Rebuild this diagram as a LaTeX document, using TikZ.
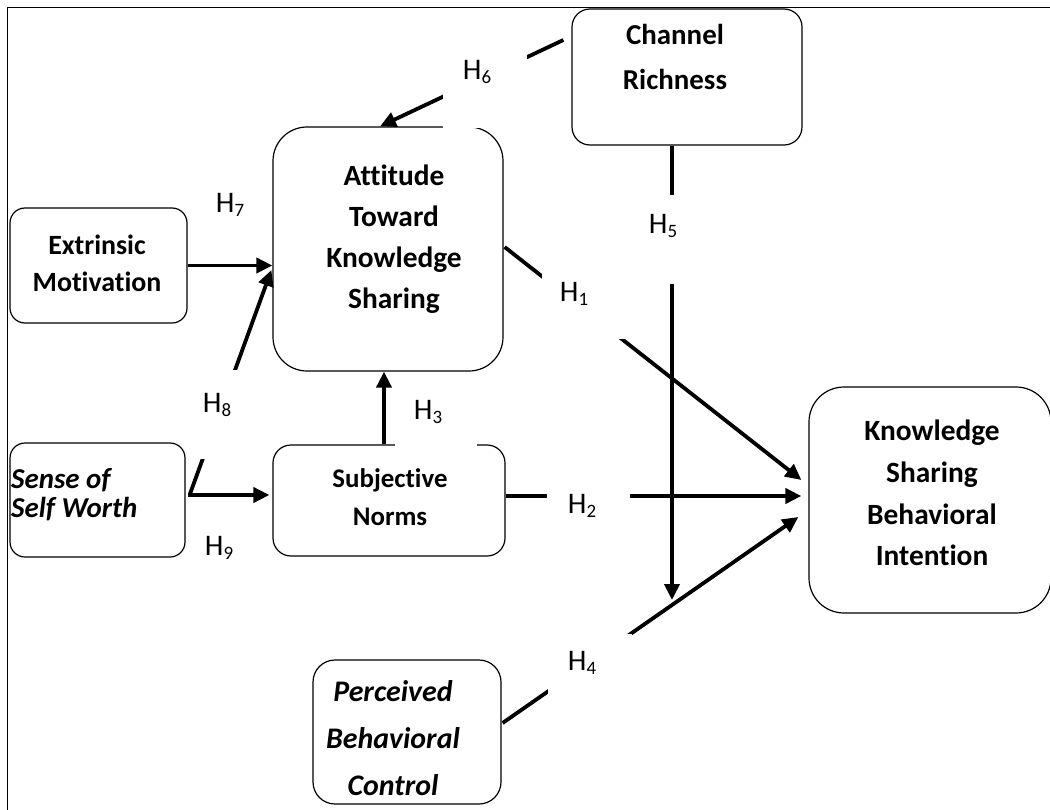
\documentclass[tikz,border=0pt]{standalone}
\usepackage{fontspec}
\setmainfont{Carlito}[Ligatures=NoCommon]
\usetikzlibrary{arrows.meta,calc}

\tikzset{
  cbox/.style={draw, line width=1.2bp, rounded corners=#1, inner sep=0pt},
  btext/.style={align=center, inner sep=0pt},
  conn/.style={line width=3.8bp, -{Triangle[length=16bp,width=15bp]}},
  mask/.style={fill=white, draw=none, inner sep=0pt},
  hlab/.style={font=\fontsize{30}{32}\selectfont, inner sep=0pt},
  frameline/.style={line width=1.8bp},
}
\newcommand\hyp[1]{H\raisebox{-4.5bp}{\fontsize{19}{19}\selectfont #1}}

\begin{document}
\begin{tikzpicture}[x=1bp, y=-1bp]
\useasboundingbox (0,0) rectangle (1050,810);

% outer frame (its right and bottom sides lie outside the page)
\draw[frameline] (1052,7.5) -- (7.5,7.5) -- (7.5,812);

% constructs
\node[cbox=18bp, minimum width=230bp, minimum height=136bp] (chan)  at (687,77)     {};
\node[cbox=34bp, minimum width=230bp, minimum height=244bp] (att)   at (388,249)    {};
\node[cbox=15bp, minimum width=177bp, minimum height=115bp] (ext)   at (98.5,265.5) {};
\node[cbox=15bp, minimum width=175bp, minimum height=114bp] (sense) at (97.5,500)   {};
\node[cbox=18bp, minimum width=232bp, minimum height=111bp] (sn)    at (389,500.5)  {};
\node[cbox=22bp, minimum width=188bp, minimum height=144bp] (pbc)   at (407,732)    {};
\node[cbox=35bp, minimum width=242bp, minimum height=226bp] (ksbi)  at (930,500)    {};

% construct names
\node[btext, font=\bfseries\fontsize{29}{46}\selectfont] (chanT) at (675,57) {Channel\\Richness};
\node[btext, font=\bfseries\fontsize{29.5}{41}\selectfont] (attT) at (394,239) {Attitude\\Toward\\Knowledge\\Sharing};
\node[btext, font=\bfseries\fontsize{28}{37}\selectfont] (extT) at (97,263) {Extrinsic\\Motivation};
\node[btext, align=left, anchor=west, font=\bfseries\itshape\fontsize{29}{29}\selectfont] (senseT) at (11,495) {Sense of\\Self Worth};
\node[btext, font=\bfseries\fontsize{27}{38}\selectfont] (snT) at (390,497) {Subjective\\Norms};
\node[btext, font=\bfseries\itshape\fontsize{30}{47}\selectfont] (pbcT) at (393,738) {Perceived\\Behavioral\\Control};
\node[btext, font=\bfseries\fontsize{29.5}{42}\selectfont] (ksbiT) at (932,493) {Knowledge\\Sharing\\Behavioral\\Intention};

% hypothesised paths
\draw[conn] ($(chan.west)+(-8,-37)$) -- ($(att.north)+(-8,0)$);        % H6
\draw[conn] (ext.east) -- (ext.east -| att.west);                        % H7
\draw[conn] ($(sense.east)+(4,-5)$) -- ($(att.west)+(-1,21)$);           % H8
\draw[conn] ($(sense.east)+(2,-5)$) -- ($(sn.west)+(-3,-5.5)$);          % H9
\draw[conn] ($(sn.north)+(-5,0)$) -- ($(att.south)+(-4,0)$);             % H3
\draw[conn] ($(att.east)+(1,-2)$) -- ($(ksbi.west)+(-7,-20)$);           % H1
\draw[conn] ($(sn.east)+(0,-4.5)$) -- ($(ksbi.west)+(-7,-4)$);           % H2
\draw[conn] ($(pbc.east)+(1,-9)$) -- ($(ksbi.west)+(-10,17)$);           % H4
\coordinate (h5end) at (672,600);
\draw[conn] (chan.south -| h5end) -- (h5end);                            % H5

% white label panels that interrupt the paths
\node[mask, minimum width=84bp, minimum height=79.7bp] (m6) at (485,87.85) {};
\node[mask, minimum width=83bp, minimum height=78bp]   (m1) at (583.5,300)  {};
\node[mask, minimum width=75bp, minimum height=89bp]   (m5) at (667.5,239.5){};
\node[mask, minimum width=83bp, minimum height=60bp]   (m2) at (588.5,505)  {};
\node[mask, minimum width=84bp, minimum height=66bp]   (m4) at (590,667)    {};
\node[mask, minimum width=82bp, minimum height=67bp]   (m3) at (436,413.5)  {};
\node[mask, minimum width=50bp, minimum height=89bp]   (m8) at (220,414.5)  {};

% hypothesis labels
\node[hlab] (l6) at (477,72)  {\hyp{6}};
\node[hlab] (l7) at (230,205) {\hyp{7}};
\node[hlab] (l8) at (217,405) {\hyp{8}};
\node[hlab] (l9) at (219,548) {\hyp{9}};
\node[hlab] (l3) at (428,412) {\hyp{3}};
\node[hlab] (l1) at (574,294) {\hyp{1}};
\node[hlab] (l5) at (663,226) {\hyp{5}};
\node[hlab] (l2) at (582,506) {\hyp{2}};
\node[hlab] (l4) at (582,663) {\hyp{4}};
\end{tikzpicture}
\end{document}
